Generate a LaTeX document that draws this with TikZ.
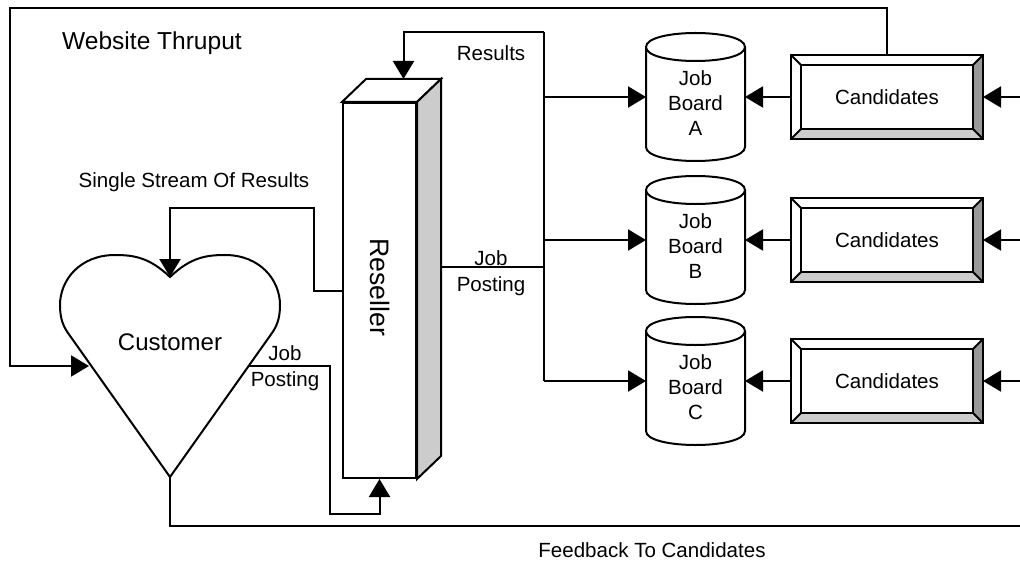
\documentclass[tikz,border=0pt]{standalone}
\usepackage{fontspec}
\setmainfont{Liberation Sans}
\usetikzlibrary{arrows.meta,calc}
\definecolor{bevdark}{HTML}{999999}
\definecolor{bevlight}{HTML}{CCCCCC}
\begin{document}
\begin{tikzpicture}[x=0.75pt,y=-0.75pt,
  line width=1.5pt,
  arr/.style={-{Triangle[length=13.5pt,width=15.75pt]}},
  lbl/.style={font=\fontsize{15.4}{19.5}\selectfont, align=center, inner sep=0pt},
  cand/.style={minimum width=142.5pt, minimum height=61.5pt, inner sep=0pt,
               font=\fontsize{15.4}{19}\selectfont},
  jb/.style={minimum width=72.75pt, minimum height=94.5pt, inner sep=0pt},
  jbtext/.style={font=\fontsize{15.4}{18.75}\selectfont, align=center, inner sep=0pt},
  bevelR/.style={fill=bevdark},
  bevelB/.style={fill=bevlight},
]
\useasboundingbox (0,0) rectangle (1020,563);

% ---------- Reseller (3-D block) ----------
\node[draw, minimum width=54.75pt, minimum height=281.25pt, inner sep=0pt] (rs) at (379.5,290.5) {};
\draw[fill=white] (rs.north west) -- ($(rs.north west)+(24,-23)$) -- ($(rs.north east)+(24,-23)$) -- (rs.north east) -- cycle;
\draw[fill=bevlight] (rs.north east) -- ($(rs.north east)+(24,-23)$) -- ($(rs.south east)+(24,-23)$) -- (rs.south east) -- cycle;
\node[rotate=-90, font=\fontsize{20}{24}\selectfont, inner sep=0pt] (rst) at (380,287) {Reseller};
\coordinate (rsTop) at ($(rs.north)+(24,-23)$);
\coordinate (rsOut) at ($(rs.east)+(24,-23.5)$);

% ---------- Customer (heart) ----------
\coordinate (hNotch) at (170,277);
\coordinate (hTip) at (170,477);
\coordinate (hL) at (89,366);
\coordinate (hR) at (249,366);
\draw (hNotch) .. controls (190,258) and (205,255) .. (225,255)
  .. controls (260,255) and (280,280) .. (280,305)
  .. controls (280,320) and (276,327) .. (272,333) -- (hTip) -- (68,333)
  .. controls (64,327) and (60,320) .. (60,305)
  .. controls (60,280) and (80,255) .. (115,255)
  .. controls (135,255) and (150,258) .. (hNotch) -- cycle;
\node[font=\fontsize{18}{22}\selectfont, inner sep=0pt] (cust) at (170,342) {Customer};

% ---------- Job boards (cylinders) ----------
\node[jb] (jbA) at (695.5,97) {};
\node[jb] (jbB) at (695.5,240) {};
\node[jb] (jbC) at (695.5,381) {};
\foreach \n in {jbA,jbB,jbC} {
  \draw ($(\n.north west)+(0,14)$) -- ($(\n.south west)+(0,-14)$)
    .. controls ($(\n.south west)+(0,4.67)$) and ($(\n.south east)+(0,4.67)$) .. ($(\n.south east)+(0,-14)$)
    -- ($(\n.north east)+(0,14)$)
    .. controls ($(\n.north east)+(0,-4.67)$) and ($(\n.north west)+(0,-4.67)$) .. ($(\n.north west)+(0,14)$)
    .. controls ($(\n.north west)+(0,32.67)$) and ($(\n.north east)+(0,32.67)$) .. ($(\n.north east)+(0,14)$);
}
\node[jbtext] (jbAt) at (695.5,103) {Job\\Board\\A};
\node[jbtext] (jbBt) at (695.5,246) {Job\\Board\\B};
\node[jbtext] (jbCt) at (695.5,387) {Job\\Board\\C};

% ---------- Candidates (bevelled boxes) ----------
\node[cand] (cA) at (887,97) {Candidates};
\node[cand] (cB) at (887,240) {Candidates};
\node[cand] (cC) at (887,381) {Candidates};
\foreach \n in {cA,cB,cC} {
  \fill[bevelR] (\n.north east) -- (\n.south east) -- ($(\n.south east)+(-10,-10)$) -- ($(\n.north east)+(-10,10)$) -- cycle;
  \fill[bevelB] (\n.south west) -- (\n.south east) -- ($(\n.south east)+(-10,-10)$) -- ($(\n.south west)+(10,-10)$) -- cycle;
  \draw (\n.north west) rectangle (\n.south east);
  \draw ($(\n.north west)+(10,10)$) rectangle ($(\n.south east)+(-10,-10)$);
  \draw (\n.north west) -- ++(10,10);
  \draw (\n.north east) -- ++(-10,10);
  \draw (\n.south west) -- ++(10,-10);
  \draw (\n.south east) -- ++(-10,-10);
}

% ---------- Connectors ----------
\coordinate (edge) at (1020,0);
\coordinate (busTop) at (544,32);
\coordinate (busBot) at (544,381);
\coordinate (fb) at (1020,526);

% website thruput loop
\draw[arr] (cA.north) |- (10,8) |- (hL);
% results back to the reseller
\draw[arr] (busTop) -| (rsTop);
\draw (busTop) -- (busBot);
\draw (rsOut) -- (rsOut -| busTop);
\foreach \n in {jbA,jbB,jbC} {
  \draw[arr] (busTop |- \n.west) -- (\n.west);
}
% candidates into the job boards
\draw[arr] (cA.west) -- (jbA.east);
\draw[arr] (cB.west) -- (jbB.east);
\draw[arr] (cC.west) -- (jbC.east);
\draw[arr] (cA.east -| edge) -- (cA.east);
\draw[arr] (cB.east -| edge) -- (cB.east);
\draw[arr] (cC.east -| edge) -- (cC.east);
% single stream of results
\draw[arr] (rs.west) -| (314,208) -| (hNotch);
% customer job posting
\draw[arr] (hR) -| (330,514) -| (rs.south);
% feedback
\draw (hTip) |- (fb);

% ---------- Labels ----------
\node[font=\fontsize{18.4}{22}\selectfont, inner sep=0pt] (wt) at (152,43) {Website Thruput};
\node[lbl] (res) at (491,53) {Results};
\node[lbl] (ssr) at (194,182) {Single Stream Of Results};
\node[lbl] (jp1) at (285,368) {Job\\Posting};
\node[lbl] (jp2) at (491,273) {Job\\Posting};
\node[lbl] (fbt) at (652,550) {Feedback To Candidates};
\end{tikzpicture}
\end{document}
